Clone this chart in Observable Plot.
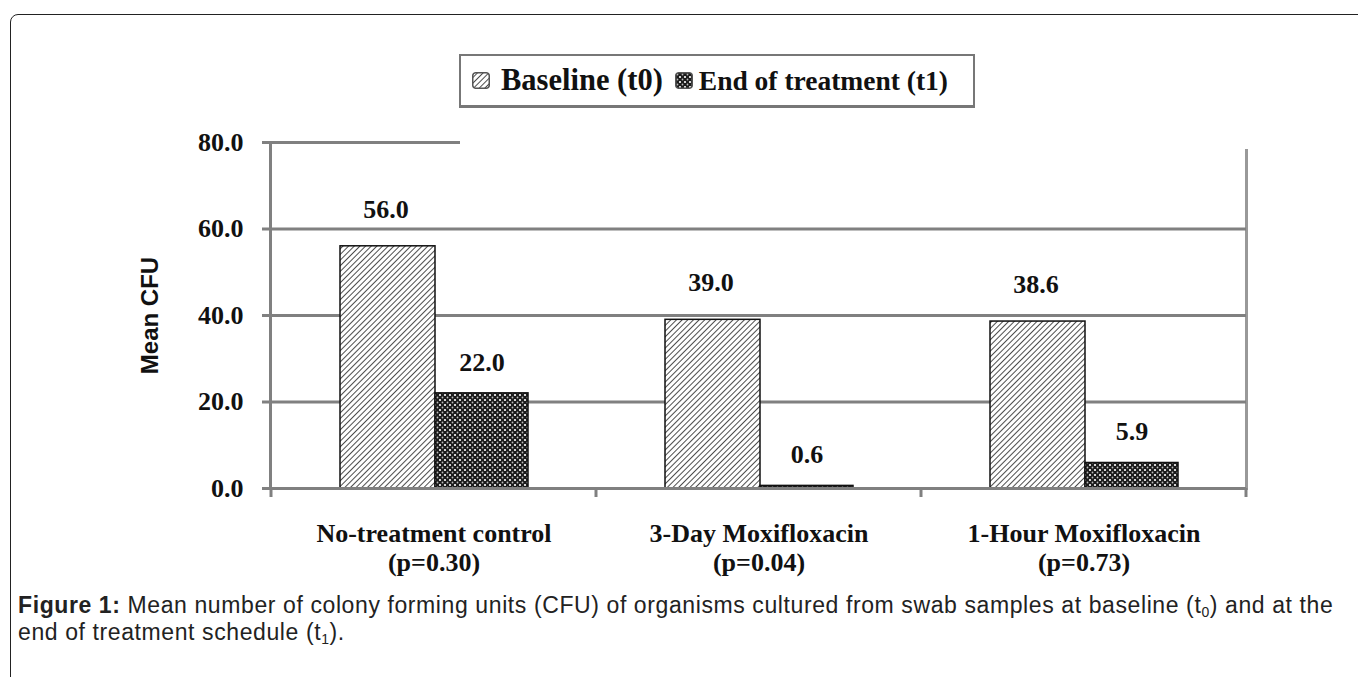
<!DOCTYPE html>
<html>
<head>
<meta charset="utf-8">
<script src="https://cdn.jsdelivr.net/npm/d3@7"></script>
<script src="https://cdn.jsdelivr.net/npm/@observablehq/plot@0.6"></script>
<style>
  html, body { margin: 0; padding: 0; background: #fff; }
  body { width: 1358px; height: 677px; position: relative; overflow: hidden; }
  #frame { position: absolute; left: 10px; top: 14px; width: 1400px; height: 700px;
           border: 1.5px solid #222; border-top-left-radius: 8px; box-sizing: border-box; }
  #chart { position: absolute; left: 0; top: 0; }
  #legend { position: absolute; left: 459px; top: 54px; width: 516px; height: 54px; box-sizing: border-box;
            border: 2px solid #777; border-bottom-width: 3px; background: #fff;
            display: flex; align-items: center; font-family: "Liberation Serif", "Times New Roman", serif; font-weight: bold; color: #111; }
  #legend .sw { width: 18px; height: 17px; border-radius: 3px; margin-left: 11px; margin-right: 11px; display: inline-block; }
  #legend .sw svg { display: block; border-radius: 3px; }
  #legend .t0 { font-size: 30.5px; }
  #legend .t1 { font-size: 27.5px; }
  #legend .sw.s1 { margin-left: 12px; margin-right: 6px; }
  #caption { position: absolute; left: 18px; top: 592px; width: 1340px; font-family: "Liberation Sans", Arial, sans-serif;
             font-size: 23px; letter-spacing: 0.6px; line-height: 27px; color: #222; white-space: nowrap; }
  #caption sub { font-size: 14px; vertical-align: -4px; line-height: 0; }
</style>
</head>
<body>
<svg width="0" height="0" style="position:absolute">
  <defs>
    <pattern id="hatch" patternUnits="userSpaceOnUse" width="4" height="4" patternTransform="rotate(45)">
      <rect width="4" height="4" fill="#fff"></rect>
      <line x1="0" y1="0" x2="0" y2="4" stroke="#111" stroke-width="1.5"></line>
    </pattern>
    <pattern id="check" patternUnits="userSpaceOnUse" width="5" height="5">
      <rect width="5" height="5" fill="#1a1a1a"></rect>
      <circle cx="0" cy="0" r="1.1" fill="#fff"></circle>
      <circle cx="5" cy="0" r="1.1" fill="#fff"></circle>
      <circle cx="0" cy="5" r="1.1" fill="#fff"></circle>
      <circle cx="5" cy="5" r="1.1" fill="#fff"></circle>
      <circle cx="2.5" cy="2.5" r="0.9" fill="#bbb"></circle>
    </pattern>
  </defs>
</svg>
<div id="frame"></div>
<div id="chart"></div>
<div id="legend"></div>
<div id="caption"><b>Figure 1:</b> Mean number of colony forming units (CFU) of organisms cultured from swab samples at baseline (t<sub>0</sub>) and at the<br>end of treatment schedule (t<sub>1</sub>).</div>
<script>
// ---- data ----
const categories = ["No-treatment control", "3-Day Moxifloxacin", "1-Hour Moxifloxacin"];
const pValues = ["(p=0.30)", "(p=0.04)", "(p=0.73)"];
const seriesNames = ["Baseline (t0)", "End of treatment (t1)"];
const baseline = [56.0, 39.0, 38.6];
const endTreatment = [22.0, 0.6, 5.9];
const yTicks = [0, 20, 40, 60, 80];
const gridTicks = [20, 40, 60];
const yLabel = "Mean CFU";

const baseRows = categories.map((c, i) => ({category: c, value: baseline[i]}));
const endRows = categories.map((c, i) => ({category: c, value: endTreatment[i]}));

const gray = "#808080";
const serif = "Liberation Serif, Times New Roman, serif";

function boundaryTicks(index, scales, values, dims) {
  const g = d3.create("svg:g").attr("stroke", gray).attr("stroke-width", 3);
  const xs = categories.map(c => scales.x(c)).concat([dims.width - dims.marginRight]);
  const y0 = scales.y(0);
  for (const xx of xs) {
    g.append("line").attr("x1", xx).attr("x2", xx).attr("y1", y0).attr("y2", y0 + 9);
  }
  return g.node();
}

const chart = Plot.plot({
  width: 1358,
  height: 600,
  marginLeft: 270,
  marginRight: 112,
  marginTop: 142,
  marginBottom: 112,
  style: {fontFamily: serif, background: "transparent", overflow: "visible"},
  x: {domain: categories, padding: 0, axis: null},
  y: {domain: [0, 80], axis: null},
  marks: [
    Plot.ruleY(gridTicks, {stroke: gray, strokeWidth: 3, insetLeft: -8}),
    Plot.ruleY([80], {stroke: gray, strokeWidth: 3, insetLeft: -8, insetRight: 786}),
    Plot.frame({anchor: "left", stroke: gray, strokeWidth: 3}),
    Plot.frame({anchor: "right", stroke: gray, strokeWidth: 3, strokeOpacity: 0.8, insetTop: 8}),
    Plot.barY(baseRows, {x: "category", y: "value", fill: "url(#hatch)", stroke: "#111", strokeWidth: 1.5, insetLeft: 69, insetRight: 161}),
    Plot.barY(endRows, {x: "category", y: "value", fill: "url(#check)", stroke: "#111", strokeWidth: 1.5, insetLeft: 164, insetRight: 68}),
    Plot.ruleY([0], {stroke: gray, strokeWidth: 3, insetLeft: -8}),
    boundaryTicks,
    Plot.axisY({ticks: yTicks, tickSize: 0, tickPadding: 27, tickFormat: d3.format(".1f"),
      fontSize: 26, fontWeight: "bold", fill: "#111", label: null}),
    Plot.text(baseRows, {x: "category", y: "value", text: d => d3.format(".1f")(d.value), dx: -48, dy: -37,
      fontSize: 26, fontWeight: "bold", fill: "#111"}),
    Plot.text(endRows, {x: "category", y: "value", text: d => d3.format(".1f")(d.value), dx: 48, dy: -31,
      fontSize: 26, fontWeight: "bold", fill: "#111"}),
    Plot.text(categories, {x: d => d, text: (d, i) => d + "\n" + pValues[i], frameAnchor: "bottom",
      lineAnchor: "top", dy: 34, lineHeight: 1.08, fontSize: 26, fontWeight: "bold", fill: "#111"}),
    Plot.text([yLabel], {frameAnchor: "left", textAnchor: "middle", dx: -120, rotate: -90,
      fontFamily: "Liberation Sans, Arial, sans-serif", fontSize: 24, fontWeight: "bold", fill: "#111"})
  ]
});
document.getElementById("chart").appendChild(chart);

// legend
const legend = d3.select("#legend");
const fills = ["url(#hatch)", "url(#check)"];
seriesNames.forEach((name, i) => {
  const sw = legend.append("span").attr("class", "sw s" + i);
  const s = sw.append("svg").attr("width", 18).attr("height", 17);
  s.append("rect").attr("x", 0.75).attr("y", 0.75).attr("width", 16.5).attr("height", 15.5).attr("rx", 3)
    .attr("fill", fills[i]).attr("stroke", "#555").attr("stroke-width", 1.5);
  legend.append("span").attr("class", i === 0 ? "t0" : "t1").text(name);
});
</script>
</body>
</html>
